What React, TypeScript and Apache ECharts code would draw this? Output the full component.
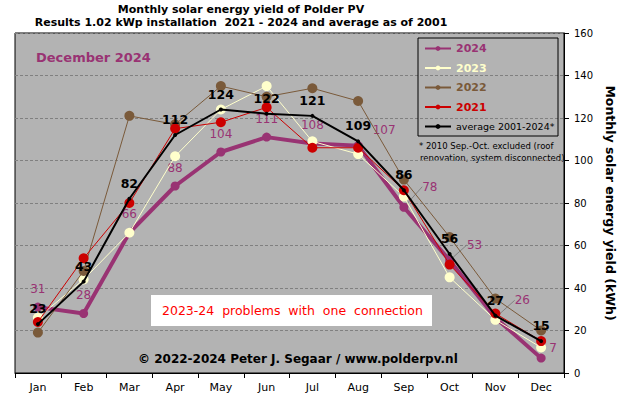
import React, { useEffect, useRef } from 'react';
import * as echarts from 'echarts';

const months = ['Jan', 'Feb', 'Mar', 'Apr', 'May', 'Jun', 'Jul', 'Aug', 'Sep', 'Oct', 'Nov', 'Dec'];
const y2024 = [31, 28, 66, 88, 104, 111, 108, 107, 78, 53, 26, 7];
const y2023 = [26, 44, 66, 102, 124, 135, 109, 103, 83, 45, 25, 12];
const y2022 = [19, 48, 121, 117, 135, 130, 134, 128, 91, 64, 35, 20];
const y2021 = [24, 54, 80, 115, 118, 125, 106, 106, 86, 51, 28, 15];
const average = [23, 43, 82, 112, 124, 122, 121, 109, 86, 56, 27, 15];
const yMin = 0;
const yMax = 160;
const yStep = 20;

const FONT = 'DejaVu Sans';
const C2024 = '#993373';
const C2023 = '#FFFFCC';
const C2022 = '#7A5A3A';
const C2021 = '#CC0000';

// label shifts for the 2024 series (dx, dy), by month index
const shift2024: Record<number, [number, number]> = {
  7: [26, 3],
  8: [26, -2],
  9: [25, 3],
  10: [27, 1],
  11: [12, 8],
};

export default function App() {
  const ref = useRef<HTMLDivElement>(null);
  useEffect(() => {
    if (!ref.current) return;
    const chart = echarts.init(ref.current, undefined, { renderer: 'svg' });
    const colorSeries = (name: string, data: number[], color: string, width: number, z: number) => ({
      name,
      type: 'line',
      data,
      z,
      symbol: 'circle',
      symbolSize: 10,
      showAllSymbol: true,
      lineStyle: { color, width },
      itemStyle: { color },
      emphasis: { disabled: true },
    });
    const option: any = {
      animation: false,
      backgroundColor: '#ffffff',
      textStyle: { fontFamily: FONT },
      grid: {
        left: 15,
        right: 57,
        top: 33,
        bottom: 26,
        containLabel: false,
        outerBoundsMode: 'none',
        show: true,
        backgroundColor: '#B3B3B3',
        borderColor: '#000000',
        borderWidth: 1,
      },
      legend: {
        orient: 'vertical',
        left: 424,
        top: 42,
        itemWidth: 26,
        itemHeight: 6,
        itemGap: 6.5,
        padding: 0,
        selectedMode: false,
        data: [
          { name: '2024', textStyle: { color: C2024, fontWeight: 'bold', fontSize: 11, lineHeight: 13 } },
          { name: '2023', textStyle: { color: C2023, fontWeight: 'bold', fontSize: 11, lineHeight: 13 } },
          { name: '2022', textStyle: { color: C2022, fontWeight: 'bold', fontSize: 11, lineHeight: 13 } },
          { name: '2021', textStyle: { color: C2021, fontWeight: 'bold', fontSize: 11, lineHeight: 13 } },
          { name: 'average 2001-2024*', textStyle: { color: '#000', fontSize: 9.5, lineHeight: 13 } },
        ],
      },
      xAxis: {
        type: 'category',
        data: months,
        boundaryGap: true,
        axisLine: { lineStyle: { color: '#000' } },
        axisTick: { show: true, interval: 0, length: 5, lineStyle: { color: '#000' } },
        axisLabel: { color: '#000', fontSize: 11, margin: 9, interval: 0 },
        splitLine: { show: false },
      },
      yAxis: {
        type: 'value',
        position: 'right',
        min: yMin,
        max: yMax,
        interval: yStep,
        name: 'Monthly solar energy yield (kWh)',
        nameLocation: 'middle',
        nameRotate: -90,
        nameGap: 37,
        nameTextStyle: { color: '#000', fontWeight: 'bold', fontSize: 12.5 },
        axisLine: { show: true, lineStyle: { color: '#000' } },
        axisTick: { show: true, length: 5, lineStyle: { color: '#000' } },
        axisLabel: { color: '#000', fontSize: 10, margin: 10 },
        splitLine: { show: true, lineStyle: { color: '#808080', type: [3, 2], width: 1 } },
      },
      series: [
        {
          ...colorSeries('2024', [], C2024, 4, 2),
          data: y2024.map((v, i) => ({
            value: v,
            labelLine: {
              show: i >= 8 && i <= 10,
              lineStyle: { color: '#808080', width: 1 },
            },
          })),
          symbolSize: 9,
          label: {
            show: true,
            position: 'top',
            distance: 8,
            color: C2024,
            fontSize: 12,
          },
          labelLayout: (p: any) => {
            const s = shift2024[p.dataIndex];
            return s ? { dx: s[0], dy: s[1] } : {};
          },
        },
        colorSeries('2023', y2023, C2023, 1, 3),
        colorSeries('2022', y2022, C2022, 1, 4),
        colorSeries('2021', y2021, C2021, 1, 5),
        {
          name: 'average 2001-2024*',
          type: 'line',
          data: average,
          z: 6,
          symbol: 'circle',
          symbolSize: 4,
          lineStyle: { color: '#000', width: 2 },
          itemStyle: { color: '#000' },
          emphasis: { disabled: true },
          label: {
            show: true,
            position: 'top',
            distance: 7,
            color: '#000',
            fontWeight: 'bold',
            fontSize: 12.5,
          },
        },
      ],
      graphic: [
        {
          type: 'text',
          x: 241,
          y: 9,
          style: {
            text: 'Monthly solar energy yield of Polder PV',
            fill: '#000',
            font: `bold 11px "${FONT}"`,
            align: 'center',
            verticalAlign: 'middle',
          },
        },
        {
          type: 'text',
          x: 241,
          y: 22.5,
          style: {
            text: 'Results 1.02 kWp installation  2021 - 2024 and average as of 2001',
            fill: '#000',
            font: `bold 11px "${FONT}"`,
            align: 'center',
            verticalAlign: 'middle',
          },
        },
        {
          type: 'text',
          x: 36,
          y: 57,
          style: {
            text: 'December 2024',
            fill: C2024,
            font: `bold 13px "${FONT}"`,
            verticalAlign: 'middle',
          },
        },
        {
          type: 'rect',
          shape: { x: 418, y: 38, width: 140, height: 98 },
          style: { fill: 'none', stroke: '#000', lineWidth: 1 },
          z: 1,
        },
        {
          type: 'text',
          x: 419,
          y: 146,
          style: {
            text: '* 2010 Sep.-Oct. excluded (roof',
            fill: '#000',
            font: `8.5px "${FONT}"`,
            verticalAlign: 'middle',
          },
        },
        {
          type: 'text',
          x: 420,
          y: 158,
          style: {
            text: 'renovation, system disconnected)',
            fill: '#000',
            font: `8.5px "${FONT}"`,
            verticalAlign: 'middle',
          },
        },
        {
          type: 'rect',
          shape: { x: 151, y: 295, width: 281, height: 31 },
          style: { fill: '#ffffff' },
        },
        {
          type: 'text',
          x: 162,
          y: 310.5,
          style: {
            text: '2023-24  problems  with  one  connection',
            fill: '#FF0000',
            font: `12.5px "${FONT}"`,
            verticalAlign: 'middle',
          },
        },
        {
          type: 'text',
          x: 138,
          y: 359,
          style: {
            text: '\u00A9 2022-2024 Peter J. Segaar / www.polderpv.nl',
            fill: '#000',
            font: `bold 12px "${FONT}"`,
            verticalAlign: 'middle',
          },
        },
      ],
    };
    chart.setOption(option);
    return () => chart.dispose();
  }, []);
  return (
    <div
      ref={ref}
      style={{ position: 'fixed', left: 0, top: 0, width: 621, height: 399 }}
    />
  );
}
